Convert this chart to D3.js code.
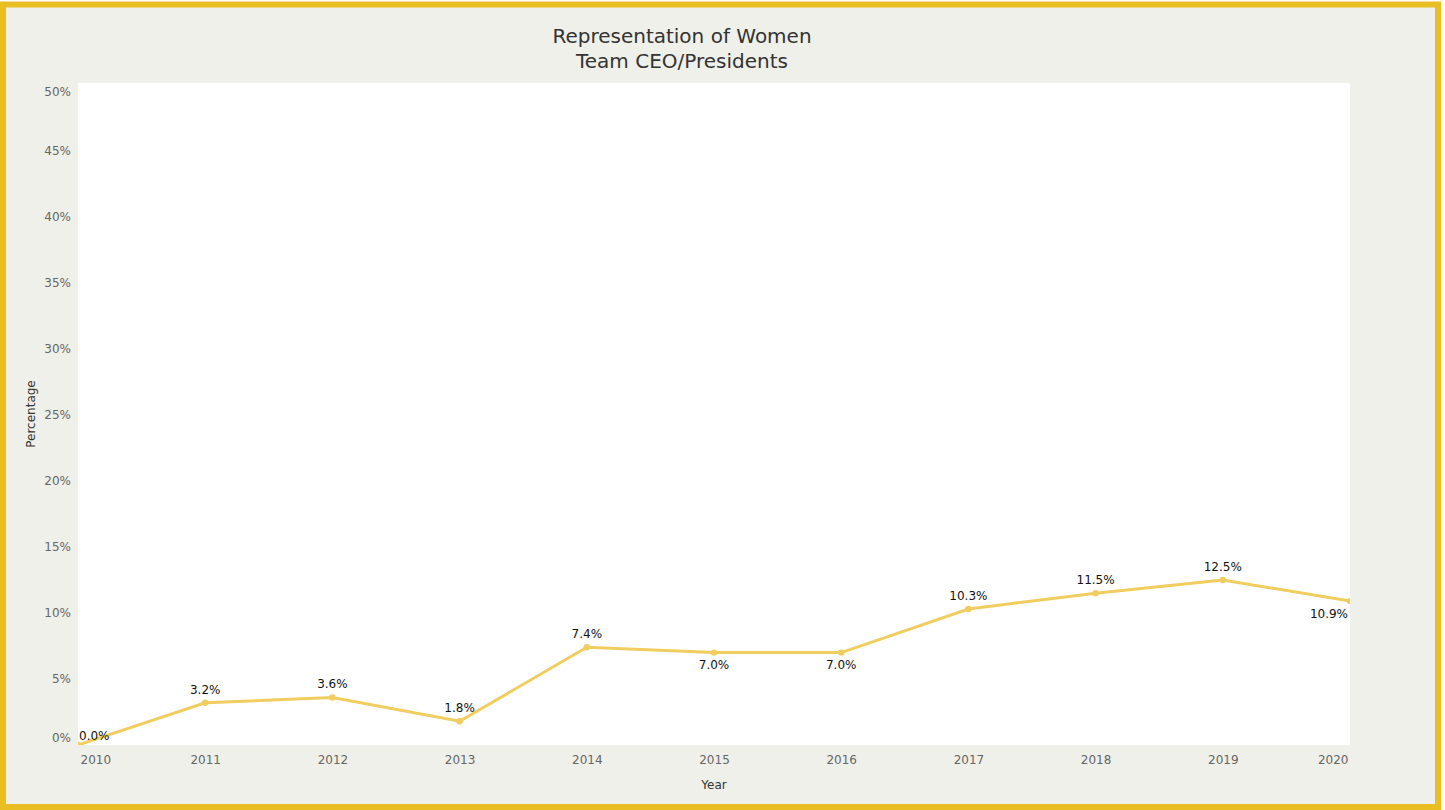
<!DOCTYPE html>
<html><head><meta charset="utf-8">
<script src="https://cdn.jsdelivr.net/npm/d3@7"></script>
<style>
html,body{margin:0;padding:0;background:#fff;}
svg{display:block;}
</style></head>
<body>
<script>
const years = [2010,2011,2012,2013,2014,2015,2016,2017,2018,2019,2020];
const values = [0.0,3.2,3.6,1.8,7.4,7.0,7.0,10.3,11.5,12.5,10.9];
const labelPos = ["right","above","above","above","above","below","below","above","above","above","belowLeft"];
const yTicks = [0,5,10,15,20,25,30,35,40,45,50];
const titleLines = ["Representation of Women","Team CEO/Presidents"];

const W=1445,H=810;
const svg=d3.select("body").append("svg").attr("width",W).attr("height",H);
svg.append("rect").attr("x",3).attr("y",4.5).attr("width",1435).attr("height",802.5)
  .attr("fill","#EFF0E9").attr("stroke","#E9BE22").attr("stroke-width",6);

const pl=78,pr=1350,pt=83,pb=745;
svg.append("rect").attr("x",pl).attr("y",pt).attr("width",pr-pl).attr("height",pb-pt).attr("fill","#fff");

const x=d3.scaleLinear().domain([2010,2020]).range([pl,pr]);
const y=d3.scaleLinear().domain([0,50]).range([745,85]);

const font="'DejaVu Sans', sans-serif";
svg.append("g").selectAll("text").data(titleLines).join("text")
  .attr("x",682).attr("y",(d,i)=>43+i*25).attr("text-anchor","middle")
  .attr("font-family",font).attr("font-size",20).attr("fill","#333").text(d=>d);

// y axis labels
const yAxis=d3.axisLeft(y).tickValues(yTicks).tickFormat(d=>d+"%").tickSize(0).tickPadding(7);
const gy=svg.append("g").attr("transform",`translate(${pl},0)`).call(yAxis);
gy.select(".domain").remove();
gy.selectAll("text").attr("font-family",font).attr("font-size",12).attr("fill","#666")
  .attr("dy",d=>d===0?"-0.3em":d===50?"0.85em":"0.3em");

// x axis labels
const xAxis=d3.axisBottom(x).tickValues(years).tickFormat(d=>d).tickSize(0).tickPadding(10);
const gx=svg.append("g").attr("transform",`translate(0,${pb})`).call(xAxis);
gx.select(".domain").remove();
gx.selectAll("text").attr("font-family",font).attr("font-size",12).attr("fill","#666")
  .attr("text-anchor",d=>d===2010?"start":d===2020?"end":"middle")
  .attr("dx",d=>d===2010?2:d===2020?-2:0);

svg.append("text").attr("x",714).attr("y",789).attr("text-anchor","middle")
  .attr("font-family",font).attr("font-size",12).attr("fill","#333").text("Year");
svg.append("text").attr("transform","translate(35,414) rotate(-90)").attr("text-anchor","middle")
  .attr("font-family",font).attr("font-size",12).attr("fill","#333").text("Percentage");

// line
const data=years.map((yr,i)=>({yr,v:values[i],p:labelPos[i]}));
svg.append("clipPath").attr("id","pc").append("rect").attr("x",pl).attr("y",pt).attr("width",pr-pl).attr("height",pb-pt);
const lg=svg.append("g").attr("clip-path","url(#pc)");
lg.append("path").datum(data).attr("d",d3.line().x(d=>x(d.yr)).y(d=>y(d.v)))
  .attr("fill","none").attr("stroke","#F0CD5E").attr("stroke-width",3);
lg.selectAll("circle").data(data).join("circle").attr("cx",d=>x(d.yr)).attr("cy",d=>y(d.v)).attr("r",3.2).attr("fill","#F0CD5E");

svg.append("g").selectAll("text").data(data).join("text")
  .attr("font-family",font).attr("font-size",12).attr("fill","#111")
  .attr("x",d=>d.p==="right"?x(d.yr)+1:d.p==="belowLeft"?x(d.yr)-2:x(d.yr))
  .attr("y",d=>d.p==="right"?y(d.v)-5:d.p==="above"?y(d.v)-9:d.p==="belowLeft"?y(d.v)+17:y(d.v)+16)
  .attr("text-anchor",d=>d.p==="right"?"start":d.p==="belowLeft"?"end":"middle")
  .text(d=>d.v.toFixed(1)+"%");
</script>
</body></html>
